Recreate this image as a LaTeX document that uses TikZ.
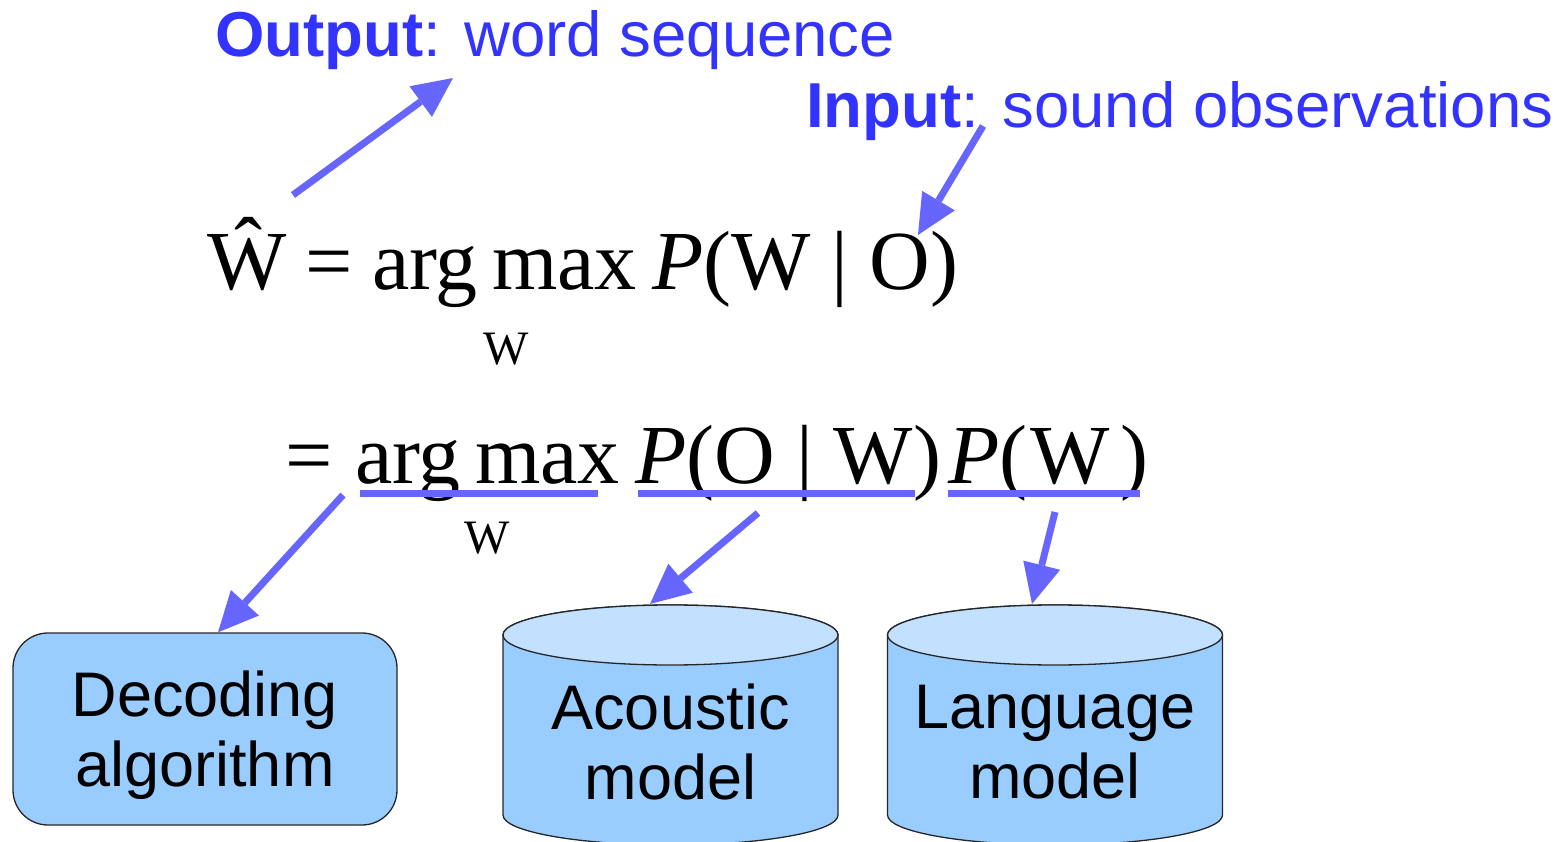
\documentclass[tikz,border=0pt]{standalone}
\usepackage{fontspec}
\setmainfont{Liberation Sans}
\newfontfamily\eqfont{Liberation Serif}
\usetikzlibrary{arrows.meta}
\definecolor{lblue}{HTML}{3333FF}
\definecolor{arrblue}{HTML}{6666FF}
\definecolor{boxblue}{HTML}{99CCFF}
\definecolor{topblue}{HTML}{C2E0FF}
\begin{document}
\begin{tikzpicture}[x=1pt, y=-1pt,
    lbl/.style={text=lblue, font=\fontsize{63.5}{70}\selectfont, inner sep=0pt, anchor=base west},
    eqn/.style={font=\eqfont\fontsize{84}{90}\selectfont, inner sep=0pt, anchor=base west},
    eqsub/.style={font=\eqfont\fontsize{48}{50}\selectfont, inner sep=0pt, anchor=base},
    arr/.style={draw=arrblue, line width=7pt, -{Triangle[length=40pt,width=38pt,line width=0pt]}},
    uline/.style={draw=arrblue, line width=7pt},
    model/.style={font=\fontsize{63}{70}\selectfont, align=center, inner sep=0pt}]
    \useasboundingbox (0,0) rectangle (1567,842);

    % the two models, cut off by the lower edge
    \foreach \cx in {670.5, 1055} {
        \filldraw[fill=boxblue, draw=black!85, line width=1.3pt] (\cx-167.5,635) -- (\cx-167.5,815)
            arc (180:0:167.5 and 30) -- (\cx+167.5,635) arc (0:-180:167.5 and 30) -- cycle;
        \filldraw[fill=topblue, draw=black!85, line width=1.3pt] (\cx,635) ellipse (167.5 and 30);
    }
    \node[model] (am) at (670.5,742) {Acoustic\\model};
    \node[model] (lm) at (1055,742) {Language\\model};
    \node[draw=black!85, line width=1.3pt, fill=boxblue, rounded corners=35pt,
          minimum width=384pt, minimum height=192pt] (dec) at (205,729) {};
    \node[model] (dect) at (205,735) {Decoding\\algorithm};

    % labels
    \node[lbl] (outl) at (215,57) {\textbf{Output}: word sequence};
    \node[lbl] (inl) at (806,128) {\textbf{Input}: sound observations};

    % formula
    \node[eqn] (w1) at (207,290) {\^{W}};
    \node[eqn] (eq1) at (305,290) {=};
    \node[eqn] (am1) at (372,290) {arg\hspace{.17em}max};
    \node[eqsub] (am1w) at (506,365) {W};
    \node[eqn] (pwo) at (652,290) {\textit{P}(W | O)};
    \node[eqn] (eq2) at (285,483) {=};
    \node[eqn] (am2) at (355,483) {arg\hspace{.17em}max};
    \node[eqsub] (am2w) at (487,553) {W};
    \node[eqn] (pow) at (635,483) {\textit{P}(O | W)};
    \node[eqn] (pw) at (948,483) {\textit{P}(\hspace{.04em}W\hspace{.12em})};

    \draw[uline] (360,493) -- (598,493);
    \draw[uline] (638,493) -- (915,493);
    \draw[uline] (948,493) -- (1140,493);

    \coordinate (outsrc) at (293,195);
    \coordinate (outtip) at (453,78);
    \coordinate (insrc) at (983,126);
    \coordinate (intip) at (918,235);
    \coordinate (decsrc) at (343,495);
    \coordinate (amsrc) at (758,513);
    \coordinate (amtop) at (650,604);
    \coordinate (lmsrc) at (1055,512);
    \coordinate (lmtop) at (1032,604);

    \draw[arr] (outsrc) -- (outtip);
    \draw[arr] (insrc) -- (intip);
    \draw[arr] (decsrc) -- ([xshift=13pt]dec.north);
    \draw[arr] (amsrc) -- (amtop);
    \draw[arr] (lmsrc) -- (lmtop);
\end{tikzpicture}
\end{document}
